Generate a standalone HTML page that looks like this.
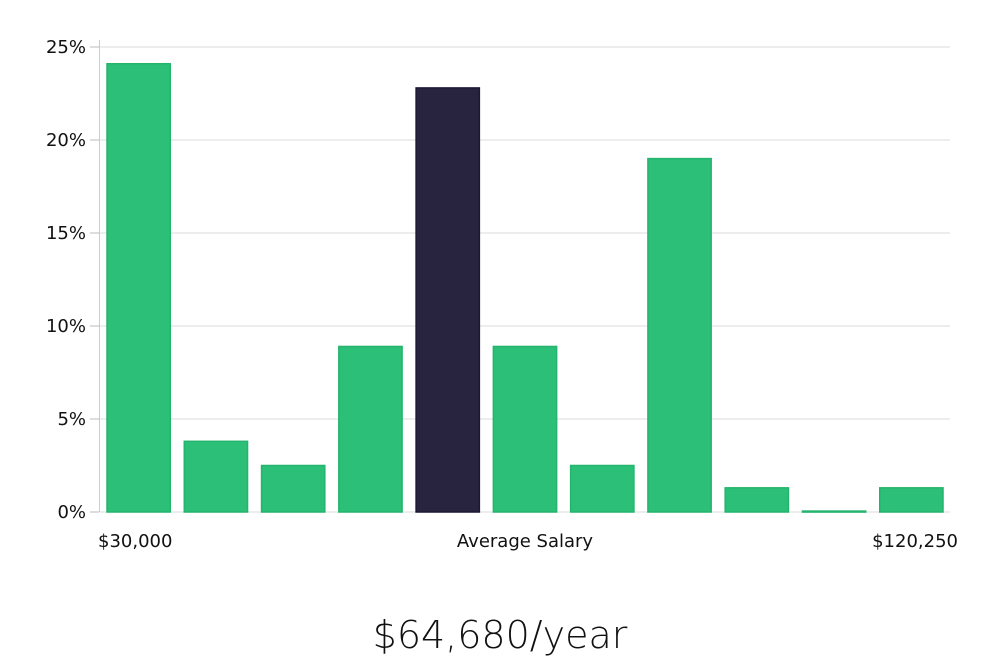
<!DOCTYPE html>
<html><head><meta charset="utf-8"><style>
html,body{margin:0;padding:0;background:#fff;width:1000px;height:660px;overflow:hidden}
svg text{font-family:"DejaVu Sans","Liberation Sans",sans-serif}
</style></head><body>
<svg id="chart" width="1000" height="660" xmlns="http://www.w3.org/2000/svg">
<g id="grid"></g>
<g id="yaxis"></g>
<g id="bars"></g>
<text x="98" y="547" font-size="18" fill="#111">$30,000</text>
<text x="525" y="547" font-size="18" fill="#111" text-anchor="middle">Average Salary</text>
<text x="958" y="547" font-size="18" fill="#111" text-anchor="end">$120,250</text>
<text x="500" y="648" font-size="38" fill="#111" text-anchor="middle" style="font-family:'DejaVu Sans','Liberation Sans',sans-serif;font-weight:200">$64,680/year</text>
</svg>
<script>
const values = [24.1, 3.8, 2.5, 8.9, 22.8, 8.9, 2.5, 19.0, 1.3, 0.05, 1.3];
const highlight = [false, false, false, false, true, false, false, false, false, false, false];
const yTicks = [0, 5, 10, 15, 20, 25];
const yTickLabels = ["0%", "5%", "10%", "15%", "20%", "25%"];
const NS = "http://www.w3.org/2000/svg";
const x0 = 100, x1 = 950, yBase = 512, yTop = 47, yMax = 25;
const y = v => yBase - (v / yMax) * (yBase - yTop);
const slot = (x1 - x0) / values.length;
const grid = document.getElementById('grid'), yaxis = document.getElementById('yaxis'), bars = document.getElementById('bars');
function mk(tag, attrs, parent){const e=document.createElementNS(NS,tag);for(const k in attrs)e.setAttribute(k,attrs[k]);parent.appendChild(e);return e;}
yTicks.forEach((t,i)=>{
  const gl = mk('line',{x1:x0,x2:x1,y1:y(t),y2:y(t),stroke:'#e2e2e2','stroke-width':1.2},grid);
  
  
  const tk = mk('line',{x1:90,x2:99,y1:y(t),y2:y(t),stroke:'#bbb','stroke-width':1},yaxis);
  
  
  const lb = mk('text',{x:86,y:y(t)+6,'font-size':18,fill:'#111','text-anchor':'end'},yaxis);
  lb.textContent = yTickLabels[i];
  
  
});
const ax = mk('line',{x1:99.5,x2:99.5,y1:40,y2:yBase,stroke:'#ccc','stroke-width':1},yaxis);


values.forEach((v,i)=>{
  const bx = x0 + i*slot + 7;
  const top = y(v);
  const r = mk('rect',{x:bx,y:top,width:slot-14,height:Math.max(yBase-top,1),fill:highlight[i]?'#28243f':'#2bbf77',stroke:highlight[i]?'#1b1833':'#25b46d','stroke-width':1.5},bars);
  
  
});
</script>
</body></html>
